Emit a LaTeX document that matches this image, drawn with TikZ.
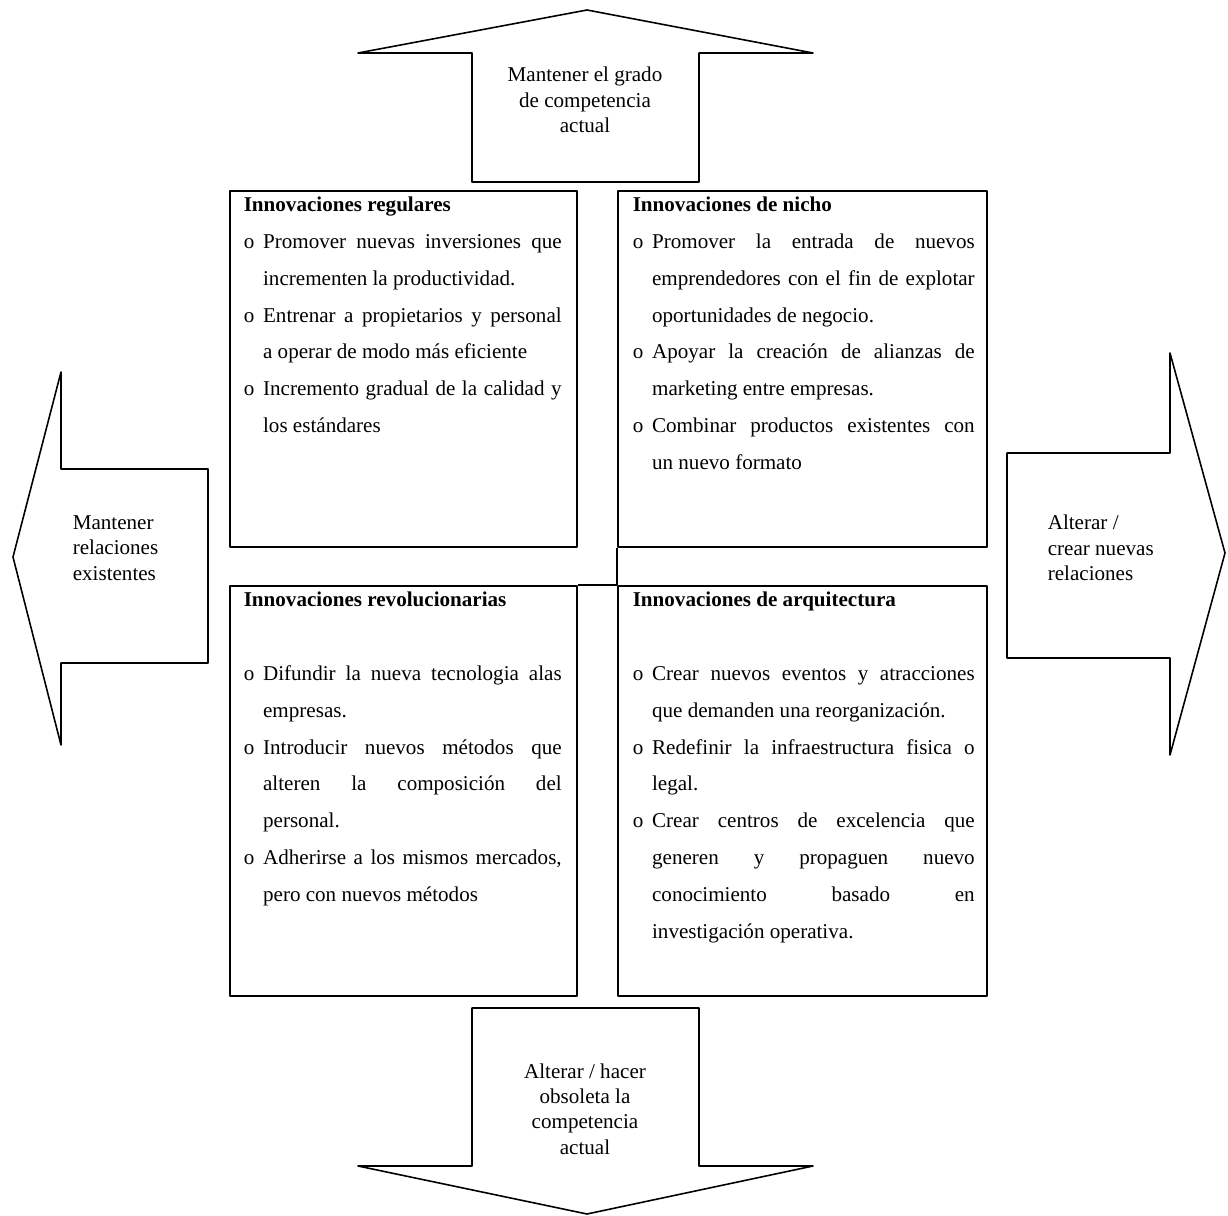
\documentclass[tikz,border=0pt]{standalone}
\usepackage{fontspec}
\setmainfont{Liberation Serif}
\usetikzlibrary{positioning}
\newlength{\bulind}
\setlength{\bulind}{11pt}
\newcommand{\hd}[1]{\noindent\textbf{#1}}
\newcommand{\itm}{\par\noindent\hangindent=\bulind\hangafter=1\makebox[\bulind][l]{o}}
\begin{document}
\begin{tikzpicture}[
		x=0.02cm, y=-0.02cm,
		line width=0.9pt, line join=round,
		quad/.style={draw, rectangle, anchor=north west, inner sep=0pt},
		quadtext/.style={inner sep=0pt, align=justify, font=\fontsize{12}{21}\selectfont},
		arrowtext/.style={inner sep=0pt, font=\fontsize{12}{14.5}\selectfont}
	]
	\useasboundingbox (0,0) rectangle (1228,1216);

	% the four quadrants
	\node[quad, minimum width=6.94cm, minimum height=7.12cm] (regular) at (229,190) {};
	\node[quad, minimum width=7.38cm, minimum height=7.12cm] (niche) at (617,190) {};
	\node[quad, minimum width=6.94cm, minimum height=8.2cm] (revolution) at (229,585) {};
	\node[quad, minimum width=7.38cm, minimum height=8.2cm] (architecture) at (617,585) {};
	\draw (revolution.north east) -- (architecture.north west);
	\draw (niche.south west) -- (architecture.north west);

	\node[quadtext, text width=6.36cm, below right=0.12cm and 0.28cm of regular.north west] (regulartxt) {
		\hd{Innovaciones regulares}
		\itm Promover nuevas inversiones que\linebreak incrementen la productividad.
		\itm Entrenar a propietarios y personal\linebreak a operar de modo más eficiente
		\itm Incremento gradual de la calidad y\linebreak los estándares\par
	};
	\node[quadtext, text width=6.84cm, below right=0.12cm and 0.3cm of niche.north west] (nichetxt) {
		\hd{Innovaciones de nicho}
		\itm Promover la entrada de nuevos\linebreak emprendedores con el fin de explotar\linebreak oportunidades de negocio.
		\itm Apoyar la creación de alianzas de\linebreak marketing entre empresas.
		\itm Combinar productos existentes con\linebreak un nuevo formato\par
	};
	\node[quadtext, text width=6.36cm, below right=0.12cm and 0.28cm of revolution.north west] (revolutiontxt) {
		\hd{Innovaciones revolucionarias}\par\vspace{21pt}
		\itm Difundir la nueva tecnologia alas\linebreak empresas.
		\itm Introducir nuevos métodos que\linebreak alteren la composición del\linebreak personal.
		\itm Adherirse a los mismos mercados,\linebreak pero con nuevos métodos\par
	};
	\node[quadtext, text width=6.84cm, below right=0.12cm and 0.3cm of architecture.north west] (architecturetxt) {
		\hd{Innovaciones de arquitectura}\par\vspace{21pt}
		\itm Crear nuevos eventos y atracciones\linebreak que demanden una reorganización.
		\itm Redefinir la infraestructura fisica o\linebreak legal.
		\itm Crear centros de excelencia que\linebreak generen y propaguen nuevo\linebreak conocimiento basado en\linebreak investigación operativa.\par
	};

	% block arrows
	\draw (472,182) -- (472,53) -- (358,53) -- (587,10) -- (813,53) -- (699,53) -- (699,182) -- cycle;
	\draw (472,1008) -- (699,1008) -- (699,1166) -- (813,1166) -- (587,1214) -- (358,1166) -- (472,1166) -- cycle;
	\draw (208,469) -- (61,469) -- (61,372) -- (13,557) -- (61,745) -- (61,663) -- (208,663) -- cycle;
	\draw (1007,453) -- (1170,453) -- (1170,353) -- (1225,553) -- (1170,755) -- (1170,658) -- (1007,658) -- cycle;

	\node[arrowtext, align=center] (keepcomp) at (585,100) {Mantener el grado\\de competencia\\actual};
	\node[arrowtext, align=left, anchor=west] (keeprel) at (72,548) {Mantener\\relaciones\\existentes};
	\node[arrowtext, align=left, anchor=west] (newrel) at (1047,548) {Alterar /\\crear nuevas\\relaciones};
	\node[arrowtext, align=center] (obsolete) at (585,1109) {Alterar / hacer\\obsoleta la\\competencia\\actual};
\end{tikzpicture}
\end{document}
